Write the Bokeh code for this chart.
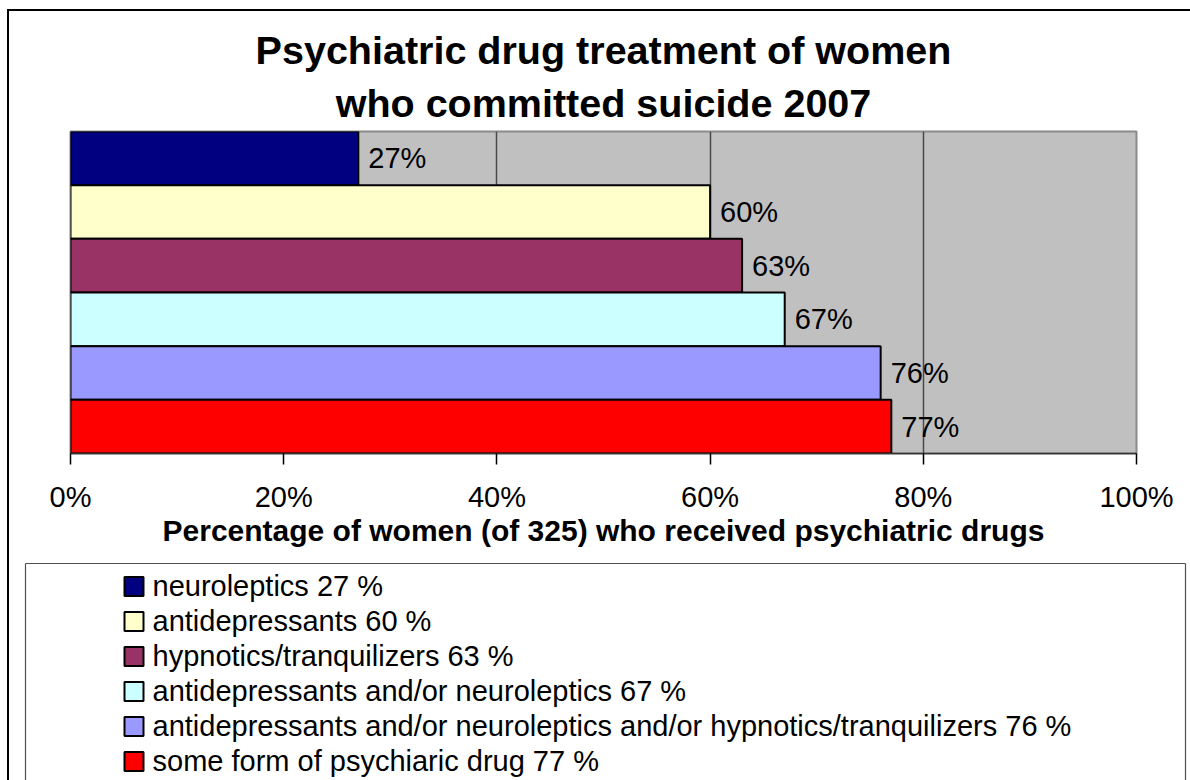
from bokeh.plotting import figure
from bokeh.layouts import column
from bokeh.models import (FactorRange, Range1d, ColumnDataSource, Title,
                          FixedTicker, LinearAxis)
from bokeh.embed import file_html
from bokeh.resources import INLINE
from bokeh.core.properties import value

# ---- data ----
categories = [
    "neuroleptics",
    "antidepressants",
    "hypnotics/tranquilizers",
    "antidepressants and/or neuroleptics",
    "antidepressants and/or neuroleptics and/or hypnotics/tranquilizers",
    "some form of psychiaric drug",
]
percent = [27, 60, 63, 67, 76, 77]
colors = ["#000080", "#FFFFCC", "#993366", "#CCFFFF", "#9999FF", "#FF0000"]
x_ticks = [0, 20, 40, 60, 80, 100]
x_tick_labels = ["0%", "20%", "40%", "60%", "80%", "100%"]
title_lines = ["Psychiatric drug treatment of women", "who committed suicide 2007"]
x_title = "Percentage of women (of 325) who received psychiatric drugs"

FONT = "Liberation Sans"
OUTER = "linear-gradient(#000,#000) 7px {top} / 2px 100% no-repeat"

source = ColumnDataSource(dict(
    cat=categories,
    pct=percent,
    color=colors,
    label=[f"{v}%" for v in percent],
))

# ---------------- chart ----------------
p = figure(
    width=1190, height=556,
    y_range=FactorRange(factors=list(reversed(categories))),
    x_range=Range1d(0, 100),
    output_backend="svg", toolbar_location=None,
    min_border_left=70, min_border_right=54,
    min_border_top=131, min_border_bottom=103,
)
p.frame_align = False
p.background_fill_color = "#C0C0C0"
p.border_fill_color = None
p.styles = {"background": OUTER.format(top="9px") + ", "
            "linear-gradient(#000,#000) 7px 9px / 100% 2px no-repeat, #ffffff"}
p.outline_line_color = "#8a8a8a"
p.outline_line_width = 2

# titles (first added is nearest to the frame)
p.add_layout(Title(text=title_lines[1], align="center", text_font=FONT,
                   text_font_size="39.5px", text_font_style="bold",
                   text_color="black", standoff=13), "above")
p.add_layout(Title(text=title_lines[0], align="center", text_font=FONT,
                   text_font_size="39.5px", text_font_style="bold",
                   text_color="black", standoff=2), "above")

# grid
p.ygrid.visible = False
p.xgrid.grid_line_color = "#4a4a4a"
p.xgrid.grid_line_width = 1.5
p.xgrid.ticker = FixedTicker(ticks=x_ticks)

# axes
p.yaxis.visible = False
xa = p.xaxis[0]
xa.ticker = FixedTicker(ticks=x_ticks)
xa.major_label_overrides = {t: l for t, l in zip(x_ticks, x_tick_labels)}
xa.major_label_text_font = FONT
xa.major_label_text_font_size = "29px"
xa.major_label_text_color = "black"
xa.major_label_standoff = 16
xa.major_tick_in = 0
xa.major_tick_out = 11
xa.major_tick_line_color = "black"
xa.major_tick_line_width = 1.5
xa.minor_tick_line_color = None
xa.axis_line_color = "#333333"
xa.axis_line_width = 1.5
xa.axis_label = x_title
xa.axis_label_text_font = FONT
xa.axis_label_text_font_size = "30px"
xa.axis_label_text_font_style = "bold"
xa.axis_label_text_color = "black"
xa.axis_label_standoff = -2

p.hbar(y="cat", right="pct", left=0, height=1.0, source=source,
       fill_color="color", line_color="black", line_width=2)

p.text(x="pct", y="cat", text="label", source=source, x_offset=10,
       text_baseline="middle", text_align="left",
       text_font=value(FONT), text_font_size="29px", text_color="black")

# ---------------- legend box ----------------
leg_source = ColumnDataSource(dict(
    row=list(range(len(categories))),
    color=colors,
    label=[f"{c} {v} %" for c, v in zip(categories, percent)],
))

lg = figure(
    width=1190, height=224,
    x_range=Range1d(0, 1160), y_range=Range1d(5.543, -0.657),
    x_axis_location="above", y_axis_location="left",
    output_backend="svg", toolbar_location=None,
    min_border_left=25, min_border_right=5,
    min_border_top=7, min_border_bottom=0,
)
lg.frame_align = False
lg.add_layout(LinearAxis(), "right")
lg.background_fill_color = "white"
lg.border_fill_color = None
lg.styles = {"background": OUTER.format(top="0px") + ", #ffffff"}
lg.outline_line_color = None
lg.grid.visible = False
for ax in lg.axis:
    ax.ticker = FixedTicker(ticks=[])
    ax.major_tick_line_color = None
    ax.minor_tick_line_color = None
    ax.major_label_standoff = 0
    ax.major_tick_out = 0
    ax.major_tick_in = 0
    ax.axis_line_color = "#505050"
    ax.axis_line_width = 1.2

lg.rect(x=108.5, y="row", width=19, height=19, width_units="screen",
        height_units="screen", source=leg_source, fill_color="color",
        line_color="black", line_width=2)
lg.text(x=127, y="row", text="label", source=leg_source,
        text_baseline="middle", text_align="left",
        text_font=value(FONT), text_font_size="29px", text_color="black")

layout = column(p, lg, spacing=0)
open("out.html", "w").write(file_html(layout, INLINE))
